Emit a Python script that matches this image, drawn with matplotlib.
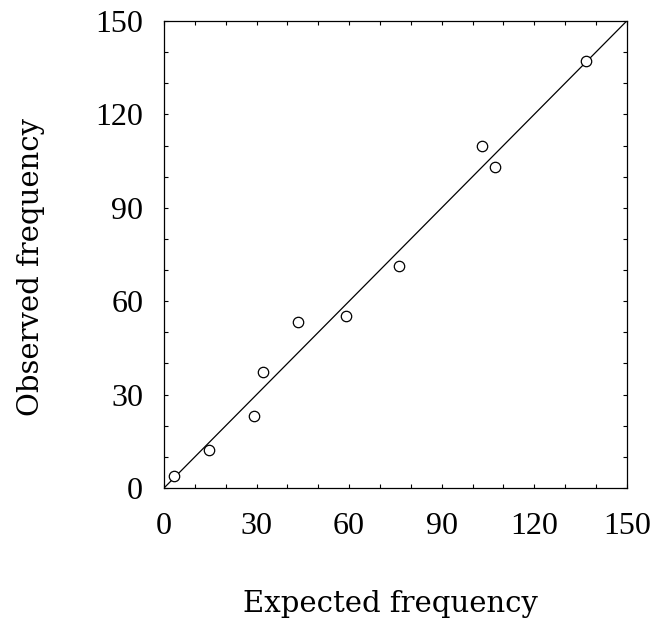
import numpy as np
import matplotlib
matplotlib.use('Agg')
import matplotlib.pyplot as plt

# expected vs observed frequencies
expected = [3.2, 14.6, 29.2, 32.1, 43.4, 59.0, 76.1, 103.0, 107.2, 136.7]
observed = [3.9, 12.2, 23.1, 37.3, 53.3, 55.2, 71.3, 110.0, 103.1, 137.1]
tick_values = [0, 30, 60, 90, 120, 150]

plt.rcParams['font.family'] = ['Liberation Serif', 'DejaVu Serif']


def main():
    fig = plt.figure(figsize=(6.55, 6.28), dpi=100)
    ax = fig.add_axes([0.2504, 0.2229, 0.7065, 0.7437])

    ax.plot([0, 150], [0, 150], color='black', lw=0.9)
    ax.plot(expected, observed, 'o', mfc='white', mec='black', ms=7.5, mew=0.9)

    ax.set_xlim(0, 150)
    ax.set_ylim(0, 150)
    ax.set_xticks(tick_values)
    ax.set_yticks(tick_values)
    ax.set_xticks(np.arange(0, 151, 10), minor=True)
    ax.set_yticks(np.arange(0, 151, 10), minor=True)
    ax.tick_params(which='both', direction='in', top=True, right=True,
                   length=3, width=0.8)
    ax.tick_params(axis='x', which='major', labelsize=23, pad=17)
    ax.tick_params(axis='y', which='major', labelsize=23, pad=15)
    for s in ax.spines.values():
        s.set_linewidth(0.9)

    # wider serif for the axis titles, the original is letter-spaced
    ax.set_xlabel('Expected frequency', fontsize=21, va='center',
                  family='DejaVu Serif')
    ax.set_ylabel('Observed frequency', fontsize=21, va='center',
                  family='DejaVu Serif')
    ax.xaxis.set_label_coords(0.49, -0.248)
    ax.yaxis.set_label_coords(-0.288, 0.473)

    fig.savefig('out.png', dpi=100)


if __name__ == '__main__':
    main()
